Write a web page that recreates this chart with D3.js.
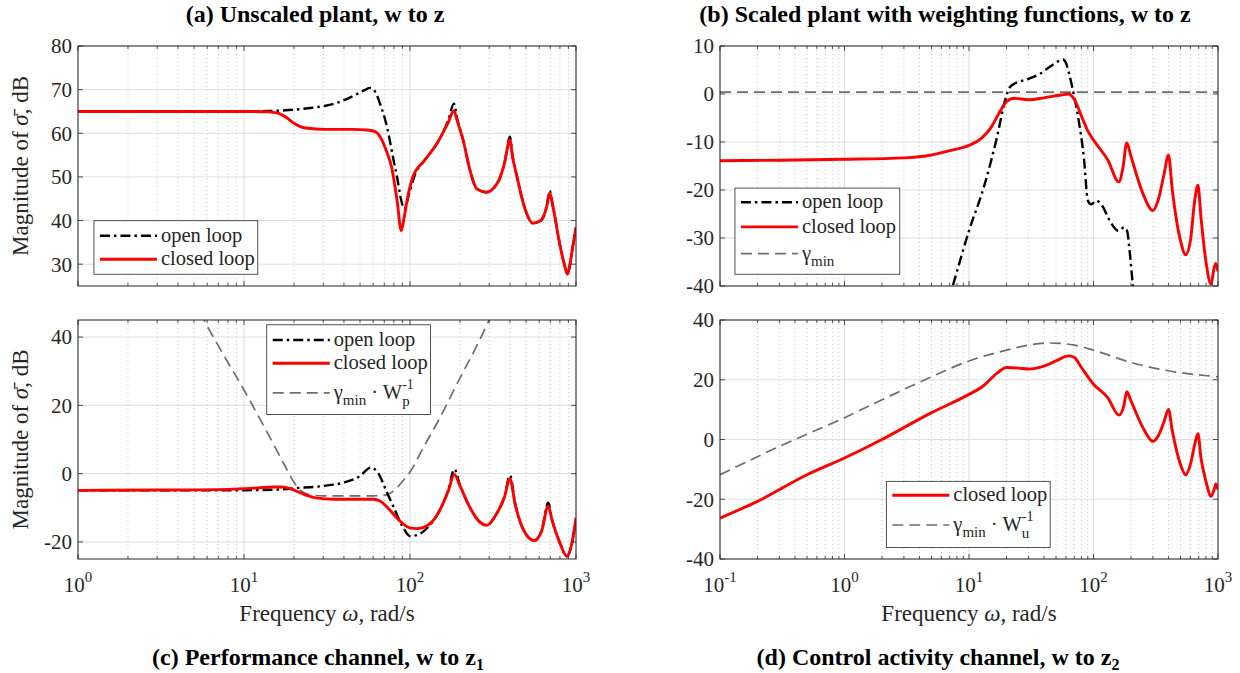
<!DOCTYPE html>
<html><head><meta charset="utf-8">
<script src="https://cdn.jsdelivr.net/npm/d3@7"></script>
<style>
body{margin:0;background:#fff}
svg{display:block}
text{font-family:"Liberation Serif","Times New Roman",serif;fill:#262626}
</style>
</head><body>
<svg id="chart" width="1240" height="673"></svg>
<script>
// ---------------- DATA ----------------
// (a) Unscaled plant, w to z
const aOpenFreq = [1, 10, 14, 20, 25, 31, 39, 48, 54, 57, 60, 63, 67, 71, 75, 79, 84, 88.6, 92.5, 98.5, 107, 123, 145, 170, 184, 192, 209, 230, 252, 289, 320, 343, 370, 400, 415, 437, 490, 550, 614, 664, 695, 720, 741, 806, 850, 891, 920, 954, 1000];
const aOpenMag  = [65, 65, 65.1, 65.4, 65.8, 66.3, 67.4, 69.0, 70.0, 70.4, 70.1, 68.8, 66, 63, 59, 54.5, 49.5, 44.6, 42.7, 46, 50.5, 53.9, 57.6, 63, 66.8, 63.5, 58.4, 51.5, 47.3, 46.5, 47.5, 49.2, 53, 59.2, 54.7, 50.7, 43, 39.4, 40, 43, 46.8, 44, 41.5, 33.8, 30, 27.7, 30, 33.8, 38.4];
const aClosedFreq = [1, 5, 10, 14, 16, 18, 20, 23.5, 31, 45, 57, 63, 67.4, 72, 77.5, 83.6, 88.6, 92, 96, 104, 123, 145, 170, 184, 192, 209, 230, 252, 289, 320, 343, 370, 400, 415, 437, 490, 550, 614, 664, 695, 720, 741, 806, 850, 891, 920, 954, 1000];
const aClosedMag  = [65, 65, 65, 64.9, 64.6, 63.6, 62.3, 61.2, 60.9, 60.9, 60.7, 60.2, 58.6, 56, 52.2, 44.6, 37.7, 40.5, 44.6, 50, 53.9, 57.6, 62.5, 65.2, 63, 58.4, 51.5, 47.3, 46.5, 47.5, 49.2, 53, 58.5, 54.5, 50.7, 43, 39.4, 40, 43, 46.3, 44, 41.5, 33.8, 30, 27.7, 30, 33.8, 38.4];

// (b) Scaled plant with weighting functions, w to z
const bOpenFreq = [6, 7.4, 10, 13.3, 16.6, 19.9, 21, 23, 29.7, 37, 46.5, 53, 57, 60, 64, 67, 75, 84, 90, 96, 105, 117, 135, 158, 176, 186, 195, 207, 220];
const bOpenMag  = [-48, -40, -28.5, -19, -9.5, -0.5, 1.2, 2.1, 3.1, 4.2, 6, 6.9, 7.2, 6.5, 4, 1.8, -4.6, -13.7, -22.2, -23, -22.2, -23.2, -26.4, -28.5, -27.8, -28.5, -32.7, -40, -48];
const bClosedFreq = [0.1, 0.3, 1, 3, 5, 7, 10, 12.5, 15, 17.5, 20, 23, 30, 40, 55, 63, 70, 80, 90, 100, 130, 160, 172, 185, 200, 250, 300, 330, 370, 400, 430, 500, 550, 600, 650, 690, 730, 800, 880, 930, 960, 1000];
const bClosedMag  = [-13.9, -13.8, -13.6, -13.3, -12.7, -11.8, -10.7, -9.3, -7, -3.9, -1.6, -0.9, -1.2, -0.8, -0.2, 0, -1.1, -4.6, -7.7, -9.6, -13.7, -18.3, -15.5, -10.2, -13, -20.8, -24.3, -22.2, -16.5, -12.7, -20.1, -30.6, -33.5, -30.6, -22.2, -19, -25.7, -34.9, -39.6, -36.3, -35.3, -37];
const bGammaFreq = [0.1, 1000];
const bGammaMag  = [0.4, 0.4];

// (c) Performance channel, w to z1
const cOpenFreq = [1, 3, 8, 12, 15, 17, 20, 30, 40, 50, 58, 65, 72, 80, 90, 100, 110, 130, 150, 170, 185, 200, 230, 260, 290, 330, 370, 400, 430, 500, 560, 620, 680, 720, 800, 880, 950, 1000];
const cOpenMag  = [-4.9, -4.9, -4.9, -4.8, -4.7, -4.6, -4.3, -3.6, -2.6, -0.7, 1.8, -0.2, -5.1, -10, -15.4, -18.3, -18, -15.4, -11, -4.8, 1.3, -3.3, -10, -13.9, -15.1, -12, -6.8, -0.5, -8.8, -17.8, -19.6, -16.8, -8.5, -13.8, -20.3, -24.2, -19.8, -12.9];
const cClosedFreq = [1, 3, 8, 12, 15, 17, 20, 23, 27, 35, 50, 60, 66, 75, 85, 100, 110, 130, 150, 170, 185, 200, 230, 260, 290, 330, 370, 400, 430, 500, 560, 620, 680, 720, 800, 880, 950, 1000];
const cClosedMag  = [-4.9, -4.8, -4.6, -4.2, -3.9, -3.9, -4.8, -6.1, -7.1, -7.5, -7.5, -7.5, -8, -10.5, -13.4, -15.9, -16.1, -14.9, -11, -5.1, -0.2, -3.6, -10, -13.9, -15.1, -12, -7, -1.5, -9, -17.8, -19.6, -16.9, -9.5, -13.9, -20.3, -24.2, -19.8, -12.9];
const cWeightFreq = [5, 5.76, 7, 10, 14, 18, 20, 22, 25, 30, 60, 72, 80, 90, 100, 120, 150, 200, 250, 300, 350];
const cWeightMag  = [52, 45, 37.5, 24.5, 11.5, 1.5, -2.5, -5, -6.2, -6.5, -6.5, -6.2, -5, -2.3, 0.5, 7.5, 16, 28, 37, 45, 52];

// (d) Control activity channel, w to z2
const dClosedFreq = [0.1, 0.2, 0.5, 1, 2, 5, 10, 13, 17, 20, 25, 30, 40, 50, 63, 70, 80, 100, 130, 160, 175, 185, 200, 250, 300, 330, 370, 400, 430, 500, 550, 600, 650, 690, 730, 800, 880, 930, 960, 1000];
const dClosedMag  = [-26.3, -20.7, -11.8, -6.2, 0, 9, 15.1, 17.9, 22.4, 24.1, 23.9, 23.6, 24.6, 26.3, 28, 27.5, 24.1, 18.5, 14, 8.2, 11.2, 16, 12.9, 3.9, -0.6, 1.1, 6.2, 10.1, 2.8, -8.4, -11.8, -8.4, -1.7, 1.9, -6.2, -14, -19, -16.8, -14.9, -16.8];
const dWeightFreq = [0.1, 0.3, 1, 2, 5, 10, 20, 30, 45, 70, 100, 200, 400, 1000];
const dWeightMag  = [-11.8, -2.3, 7.3, 13.3, 21, 26.3, 29.9, 31.6, 32.3, 31.6, 29.9, 25.8, 23, 21];

// tick values
const yTicksA = [30, 40, 50, 60, 70, 80];
const yTicksB = [-40, -30, -20, -10, 0, 10];
const yTicksC = [-20, 0, 20, 40];
const yTicksD = [-40, -20, 0, 20, 40];
const xDecadesAC = [0, 1, 2, 3];
const xDecadesBD = [-1, 0, 1, 2, 3];

// ---------------- DRAWING ----------------
const svg = d3.select('#chart');
const FS_TICK = 21, FS_LABEL = 23, FS_TITLE = 24, FS_LEG = 20.5;
const zip = (f, m) => f.map((v, i) => [v, m[i]]);

const styles = {
  open:   {stroke: '#000', width: 2.4, dash: '10,4,2.5,4'},
  closed: {stroke: '#ff0000', width: 2.9, dash: null},
  gamma:  {stroke: '#6e6e6e', width: 1.7, dash: '11,6'}
};

function rich(sel, parts) {
  parts.forEach(p => {
    const t = sel.append('tspan').text(p.t);
    if (p.size) t.attr('font-size', p.size);
    if (p.dy !== undefined) t.attr('dy', p.dy);
    if (p.dx !== undefined) t.attr('dx', p.dx);
    if (p.it) t.attr('font-style', 'italic');
  });
  return sel;
}

function panel(cfg) {
  const g = svg.append('g');
  const x = d3.scaleLog().domain(cfg.xDomain).range([cfg.x0, cfg.x1]);
  const y = d3.scaleLinear().domain(cfg.yDomain).range([cfg.y1, cfg.y0]);
  const id = 'clip' + cfg.id;
  svg.append('clipPath').attr('id', id).append('rect')
    .attr('x', cfg.x0).attr('y', cfg.y0).attr('width', cfg.x1 - cfg.x0).attr('height', cfg.y1 - cfg.y0);

  // grid
  const decs = cfg.decades;
  const minors = [];
  for (let i = 0; i < decs.length - 1; i++) for (let k = 2; k <= 9; k++) minors.push(k * Math.pow(10, decs[i]));
  const majors = decs.map(d => Math.pow(10, d));
  g.selectAll('.mg').data(minors).join('line')
    .attr('x1', d => x(d)).attr('x2', d => x(d)).attr('y1', cfg.y0).attr('y2', cfg.y1)
    .attr('stroke', '#bdbdbd').attr('stroke-width', 0.8).attr('stroke-dasharray', '1,3');
  g.selectAll('.gx').data(majors).join('line')
    .attr('x1', d => x(d)).attr('x2', d => x(d)).attr('y1', cfg.y0).attr('y2', cfg.y1)
    .attr('stroke', '#dadada').attr('stroke-width', 0.9);
  g.selectAll('.gy').data(cfg.yTicks).join('line')
    .attr('x1', cfg.x0).attr('x2', cfg.x1).attr('y1', d => y(d)).attr('y2', d => y(d))
    .attr('stroke', '#dadada').attr('stroke-width', 0.9);

  // series
  const line = d3.line().x(d => x(d[0])).y(d => y(d[1])).curve(d3.curveMonotoneX);
  const lg = g.append('g').attr('clip-path', `url(#${id})`);
  cfg.series.forEach(s => {
    const st = styles[s.kind];
    lg.append('path').datum(zip(s.f, s.m)).attr('d', line)
      .attr('fill', 'none').attr('stroke', st.stroke).attr('stroke-width', st.width)
      .attr('stroke-dasharray', st.dash).attr('stroke-linejoin', 'round');
  });

  // axes ticks (inside, all four sides)
  const ax = g.append('g').attr('stroke', '#262626').attr('stroke-width', 0.8);
  majors.forEach(v => {
    ax.append('line').attr('x1', x(v)).attr('x2', x(v)).attr('y1', cfg.y1).attr('y2', cfg.y1 - 5);
    ax.append('line').attr('x1', x(v)).attr('x2', x(v)).attr('y1', cfg.y0).attr('y2', cfg.y0 + 5);
  });
  minors.forEach(v => {
    ax.append('line').attr('x1', x(v)).attr('x2', x(v)).attr('y1', cfg.y1).attr('y2', cfg.y1 - 3);
    ax.append('line').attr('x1', x(v)).attr('x2', x(v)).attr('y1', cfg.y0).attr('y2', cfg.y0 + 3);
  });
  cfg.yTicks.forEach(v => {
    ax.append('line').attr('x1', cfg.x0).attr('x2', cfg.x0 + 5).attr('y1', y(v)).attr('y2', y(v));
    ax.append('line').attr('x1', cfg.x1).attr('x2', cfg.x1 - 5).attr('y1', y(v)).attr('y2', y(v));
  });
  g.append('rect').attr('x', cfg.x0).attr('y', cfg.y0).attr('width', cfg.x1 - cfg.x0).attr('height', cfg.y1 - cfg.y0)
    .attr('fill', 'none').attr('stroke', '#262626').attr('stroke-width', 1);

  // y tick labels
  g.selectAll('.yl').data(cfg.yTicks).join('text')
    .attr('x', cfg.x0 - 6).attr('y', d => y(d)).attr('dy', '0.35em')
    .attr('text-anchor', 'end').attr('font-size', FS_TICK).text(d => d);

  // x tick labels
  if (cfg.xLabels) {
    decs.forEach(d => {
      const t = g.append('text').attr('x', x(Math.pow(10, d))).attr('y', cfg.y1 + 33)
        .attr('text-anchor', 'middle').attr('font-size', FS_TICK);
      rich(t, [{t: '10'}, {t: String(d), size: 15, dy: -10}]);
    });
    const xl = g.append('text').attr('x', (cfg.x0 + cfg.x1) / 2).attr('y', cfg.y1 + 62)
      .attr('text-anchor', 'middle').attr('font-size', FS_LABEL);
    rich(xl, [{t: 'Frequency '}, {t: 'ω', it: true}, {t: ', rad/s'}]);
  }
  if (cfg.yLabel) {
    const yl = g.append('text')
      .attr('transform', `translate(28,${(cfg.y0 + cfg.y1) / 2}) rotate(-90)`)
      .attr('text-anchor', 'middle').attr('font-size', FS_LABEL);
    rich(yl, [{t: 'Magnitude of '}, {t: 'σ\u0304', it: true}, {t: ',  dB'}]);
  }

  // title / caption
  const tt = g.append('text').attr('x', cfg.titleX).attr('y', cfg.titleY)
    .attr('text-anchor', 'middle').attr('font-size', FS_TITLE).attr('font-weight', 'bold')
    .style('fill', '#000');
  rich(tt, cfg.title);

  // legend
  const W = cfg.x1 - cfg.x0, H = cfg.y1 - cfg.y0;
  const L = cfg.legend;
  const bx = cfg.x0 + L.fx0 * W, bx1 = cfg.x0 + L.fx1 * W;
  const by = cfg.y0 + L.fy0 * H, by1 = cfg.y0 + L.fy1 * H;
  g.append('rect').attr('x', bx).attr('y', by).attr('width', bx1 - bx).attr('height', by1 - by)
    .attr('fill', '#fff').attr('stroke', '#262626').attr('stroke-width', 0.8);
  L.items.forEach(it => {
    const st = styles[it.kind];
    const ly = by + it.fy * (by1 - by);
    g.append('line').attr('x1', bx + 6).attr('x2', bx + 63).attr('y1', ly).attr('y2', ly)
      .attr('stroke', st.stroke).attr('stroke-width', st.width).attr('stroke-dasharray', st.dash);
    const t = g.append('text').attr('x', bx + 67).attr('y', ly + 6).attr('font-size', FS_LEG);
    it.label(t);
  });
}

const lblOpen = t => rich(t, [{t: 'open loop'}]);
const lblClosed = t => rich(t, [{t: 'closed loop'}]);
const lblGamma = t => rich(t, [{t: 'γ'}, {t: 'min', size: 15, dy: 6}]);
function lblGammaW(sub) {
  return t => {
    rich(t, [{t: 'γ'}, {t: 'min', size: 15, dy: 6}, {t: ' · W', dy: -6}]);
    const sup = t.append('tspan').text('-1').attr('font-size', 14).attr('dy', -10);
    const w = sup.node().getComputedTextLength();
    t.append('tspan').text(sub).attr('font-size', 15).attr('dx', -w).attr('dy', 17);
  };
}

panel({
  id: 'a', x0: 78, x1: 576, y0: 46, y1: 286, xDomain: [1, 1000], yDomain: [25, 80],
  decades: xDecadesAC, yTicks: yTicksA, xLabels: false, yLabel: true, titleX: 315, titleY: 22,
  title: [{t: '(a) Unscaled plant, w to z'}],
  series: [{kind: 'open', f: aOpenFreq, m: aOpenMag}, {kind: 'closed', f: aClosedFreq, m: aClosedMag}],
  legend: {fx0: 0.032, fx1: 0.361, fy0: 0.728, fy1: 0.951,
    items: [{kind: 'open', fy: 0.28, label: lblOpen}, {kind: 'closed', fy: 0.72, label: lblClosed}]}
});
panel({
  id: 'b', x0: 720, x1: 1218, y0: 46, y1: 286, xDomain: [0.1, 1000], yDomain: [-40, 10],
  decades: xDecadesBD, yTicks: yTicksB, xLabels: false, yLabel: false, titleX: 945, titleY: 22,
  title: [{t: '(b) Scaled plant with weighting functions, w to z'}],
  series: [{kind: 'gamma', f: bGammaFreq, m: bGammaMag}, {kind: 'open', f: bOpenFreq, m: bOpenMag}, {kind: 'closed', f: bClosedFreq, m: bClosedMag}],
  legend: {fx0: 0.030, fx1: 0.361, fy0: 0.592, fy1: 0.951,
    items: [{kind: 'open', fy: 0.165, label: lblOpen}, {kind: 'closed', fy: 0.45, label: lblClosed}, {kind: 'gamma', fy: 0.76, label: lblGamma}]}
});
panel({
  id: 'c', x0: 78, x1: 576, y0: 320, y1: 559, xDomain: [1, 1000], yDomain: [-25, 45],
  decades: xDecadesAC, yTicks: yTicksC, xLabels: true, yLabel: true, titleX: 318, titleY: 665,
  title: [{t: '(c) Performance channel, w to z'}, {t: '1', size: 16, dy: 5}],
  series: [{kind: 'gamma', f: cWeightFreq, m: cWeightMag}, {kind: 'open', f: cOpenFreq, m: cOpenMag}, {kind: 'closed', f: cClosedFreq, m: cClosedMag}],
  legend: {fx0: 0.379, fx1: 0.708, fy0: 0.02, fy1: 0.395,
    items: [{kind: 'open', fy: 0.17, label: lblOpen}, {kind: 'closed', fy: 0.43, label: lblClosed}, {kind: 'gamma', fy: 0.76, label: lblGammaW('p')}]}
});
panel({
  id: 'd', x0: 720, x1: 1218, y0: 320, y1: 559, xDomain: [0.1, 1000], yDomain: [-40, 40],
  decades: xDecadesBD, yTicks: yTicksD, xLabels: true, yLabel: false, titleX: 938, titleY: 665,
  title: [{t: '(d) Control activity channel, w to z'}, {t: '2', size: 16, dy: 5}],
  series: [{kind: 'gamma', f: dWeightFreq, m: dWeightMag}, {kind: 'closed', f: dClosedFreq, m: dClosedMag}],
  legend: {fx0: 0.334, fx1: 0.663, fy0: 0.675, fy1: 0.952,
    items: [{kind: 'closed', fy: 0.21, label: lblClosed}, {kind: 'gamma', fy: 0.66, label: lblGammaW('u')}]}
});
</script>
</body></html>
